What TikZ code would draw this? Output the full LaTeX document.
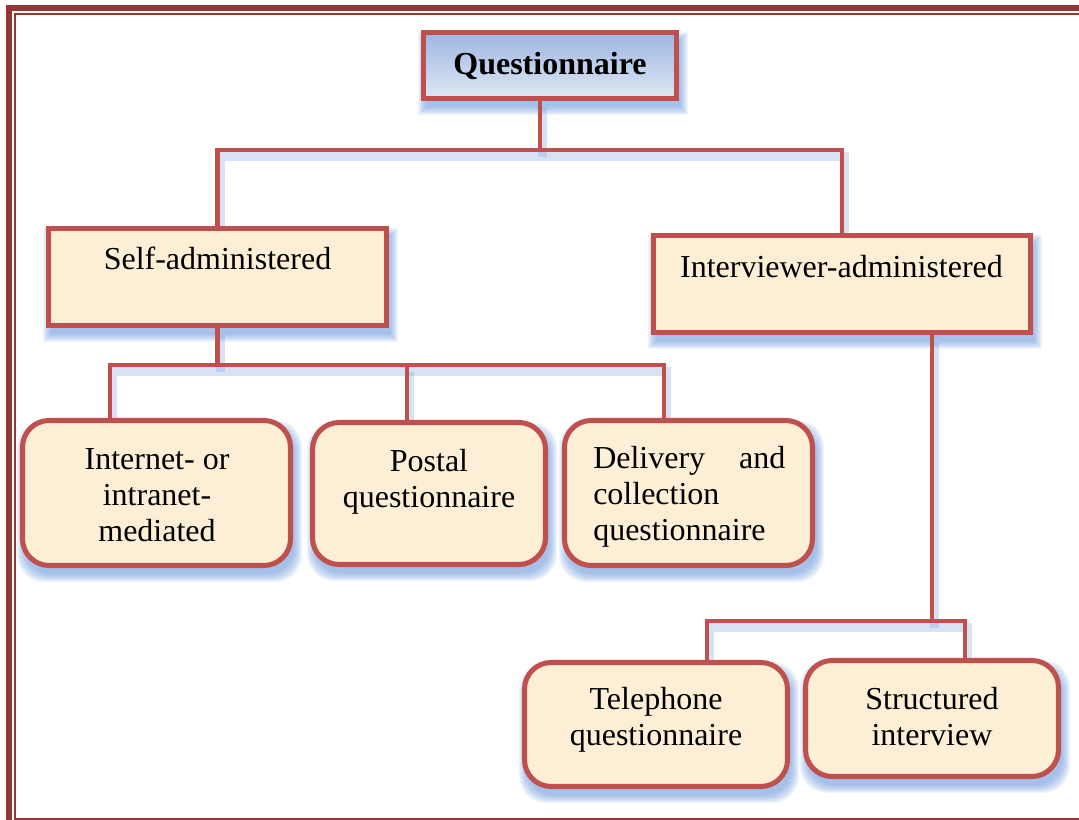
\documentclass[tikz,border=0pt]{standalone}
\usepackage{fontspec}
\setmainfont{Liberation Serif}
\usetikzlibrary{calc,backgrounds}

\definecolor{boxred}{HTML}{C0504D}
\definecolor{framered}{HTML}{943634}
\definecolor{cream}{HTML}{FCEFD6}
\definecolor{haloblue}{HTML}{6F9BDB}
\definecolor{qtop}{HTML}{9DB6E2}
\definecolor{qbot}{HTML}{DFE7F4}

% soft blue glow under a box: #1 node name, #2 corner radius
\newcommand\halo[2]{%
  \foreach \e in {-2,-1,...,6}{%
    \fill[haloblue,opacity=0.1,rounded corners=#2]
      ($(#1.north west)+(3-\e,8-\e)$) rectangle ($(#1.south east)+(3+\e,8+\e)$);}}

% all connector paths, drawn with style #1
\newcommand\links[1]{%
  \draw[#1] (Q.south -| qb) -- (qb);
  \draw[#1] (S.north) |- (qb) -| (I.north);
  \draw[#1] (S.south) -- (S.south |- d1);
  \draw[#1] (N1.north -| d1) -- (d1) -- (d3) -- (N3.north -| d3);
  \draw[#1] (d2) -- (N2.north -| d2);
  \draw[#1] (I.south -| ib) -- (ib);
  \draw[#1] (T.north -| e1) -- (e1) -- (e2) -- (R.north -| e2);
}

\begin{document}
\begin{tikzpicture}[x=0.75pt,y=-0.75pt,
  every node/.style={font=\fontsize{24}{27}\selectfont},
  box/.style={draw=boxred,line width=3.8pt,fill=cream,inner sep=0pt},
  roundbox/.style={box,rounded corners=20pt},
  size/.style 2 args={minimum width=#1*0.75pt,minimum height=#2*0.75pt},
  label text/.style={inner sep=0pt,align=center},
  conn/.style={draw=boxred,line width=3.3pt,line join=miter},
  connhalo/.style={draw=haloblue,line width=7pt,opacity=0.28}]

\useasboundingbox (0,0) rectangle (1079,820);
\clip (0,0) rectangle (1079,820);

% page frame
\draw[framered,line width=4.5pt] (9,8) rectangle (1100,840);
\draw[framered,line width=1.6pt] (15,14) rectangle (1095,819);

% boxes
\node[box,size={253}{66},top color=qtop,bottom color=qbot,
      font=\fontsize{24}{27}\selectfont\bfseries] (Q) at (550,65.5) {Questionnaire};
\node[box,size={338}{97}] (S) at (217.5,277) {};
\node[box,size={377}{97}] (I) at (842,284) {};
\node[roundbox,size={268}{145}] (N1) at (156.5,493) {};
\node[roundbox,size={233}{142}] (N2) at (429,493.5) {};
\node[roundbox,size={248}{145}] (N3) at (688.5,493) {};
\node[roundbox,size={263}{124}] (T) at (656,724.5) {};
\node[roundbox,size={253}{116}] (R) at (932,718.5) {};

% box texts
\node[label text,anchor=base] (St) at (217.5,270) {Self-administered};
\node[label text,anchor=base] (It) at (841.5,277) {Interviewer-administered};
\node[label text] (N1t) at (157,495.5) {Internet- or\\intranet-\\mediated};
\node[label text] (N2t) at (429,482) {Postal\\questionnaire};
\node[label text,align=left,anchor=west] (N3t) at (593,497)
  {\hbox to 144pt{Delivery\hfill and}\\collection\\questionnaire};
\node[label text] (Tt) at (656,719.5) {Telephone\\questionnaire};
\node[label text] (Rt) at (932,717) {Structured\\interview};

% junction points of the connector buses
\coordinate (qb) at (540,150);
\coordinate (d1) at (110,365);
\coordinate (d2) at (407,365);
\coordinate (d3) at (664,365);
\coordinate (ib) at (932,621);
\coordinate (e1) at (707,621);
\coordinate (e2) at (965,621);

\begin{pgfonlayer}{background}
  \begin{scope}[transform canvas={shift={(2pt,-5pt)}}]
    \links{connhalo}
  \end{scope}
  \halo{Q}{0pt}
  \halo{S}{0pt}
  \halo{I}{0pt}
  \halo{N1}{20pt}
  \halo{N2}{20pt}
  \halo{N3}{20pt}
  \halo{T}{20pt}
  \halo{R}{20pt}
\end{pgfonlayer}

\links{conn}
\end{tikzpicture}
\end{document}
